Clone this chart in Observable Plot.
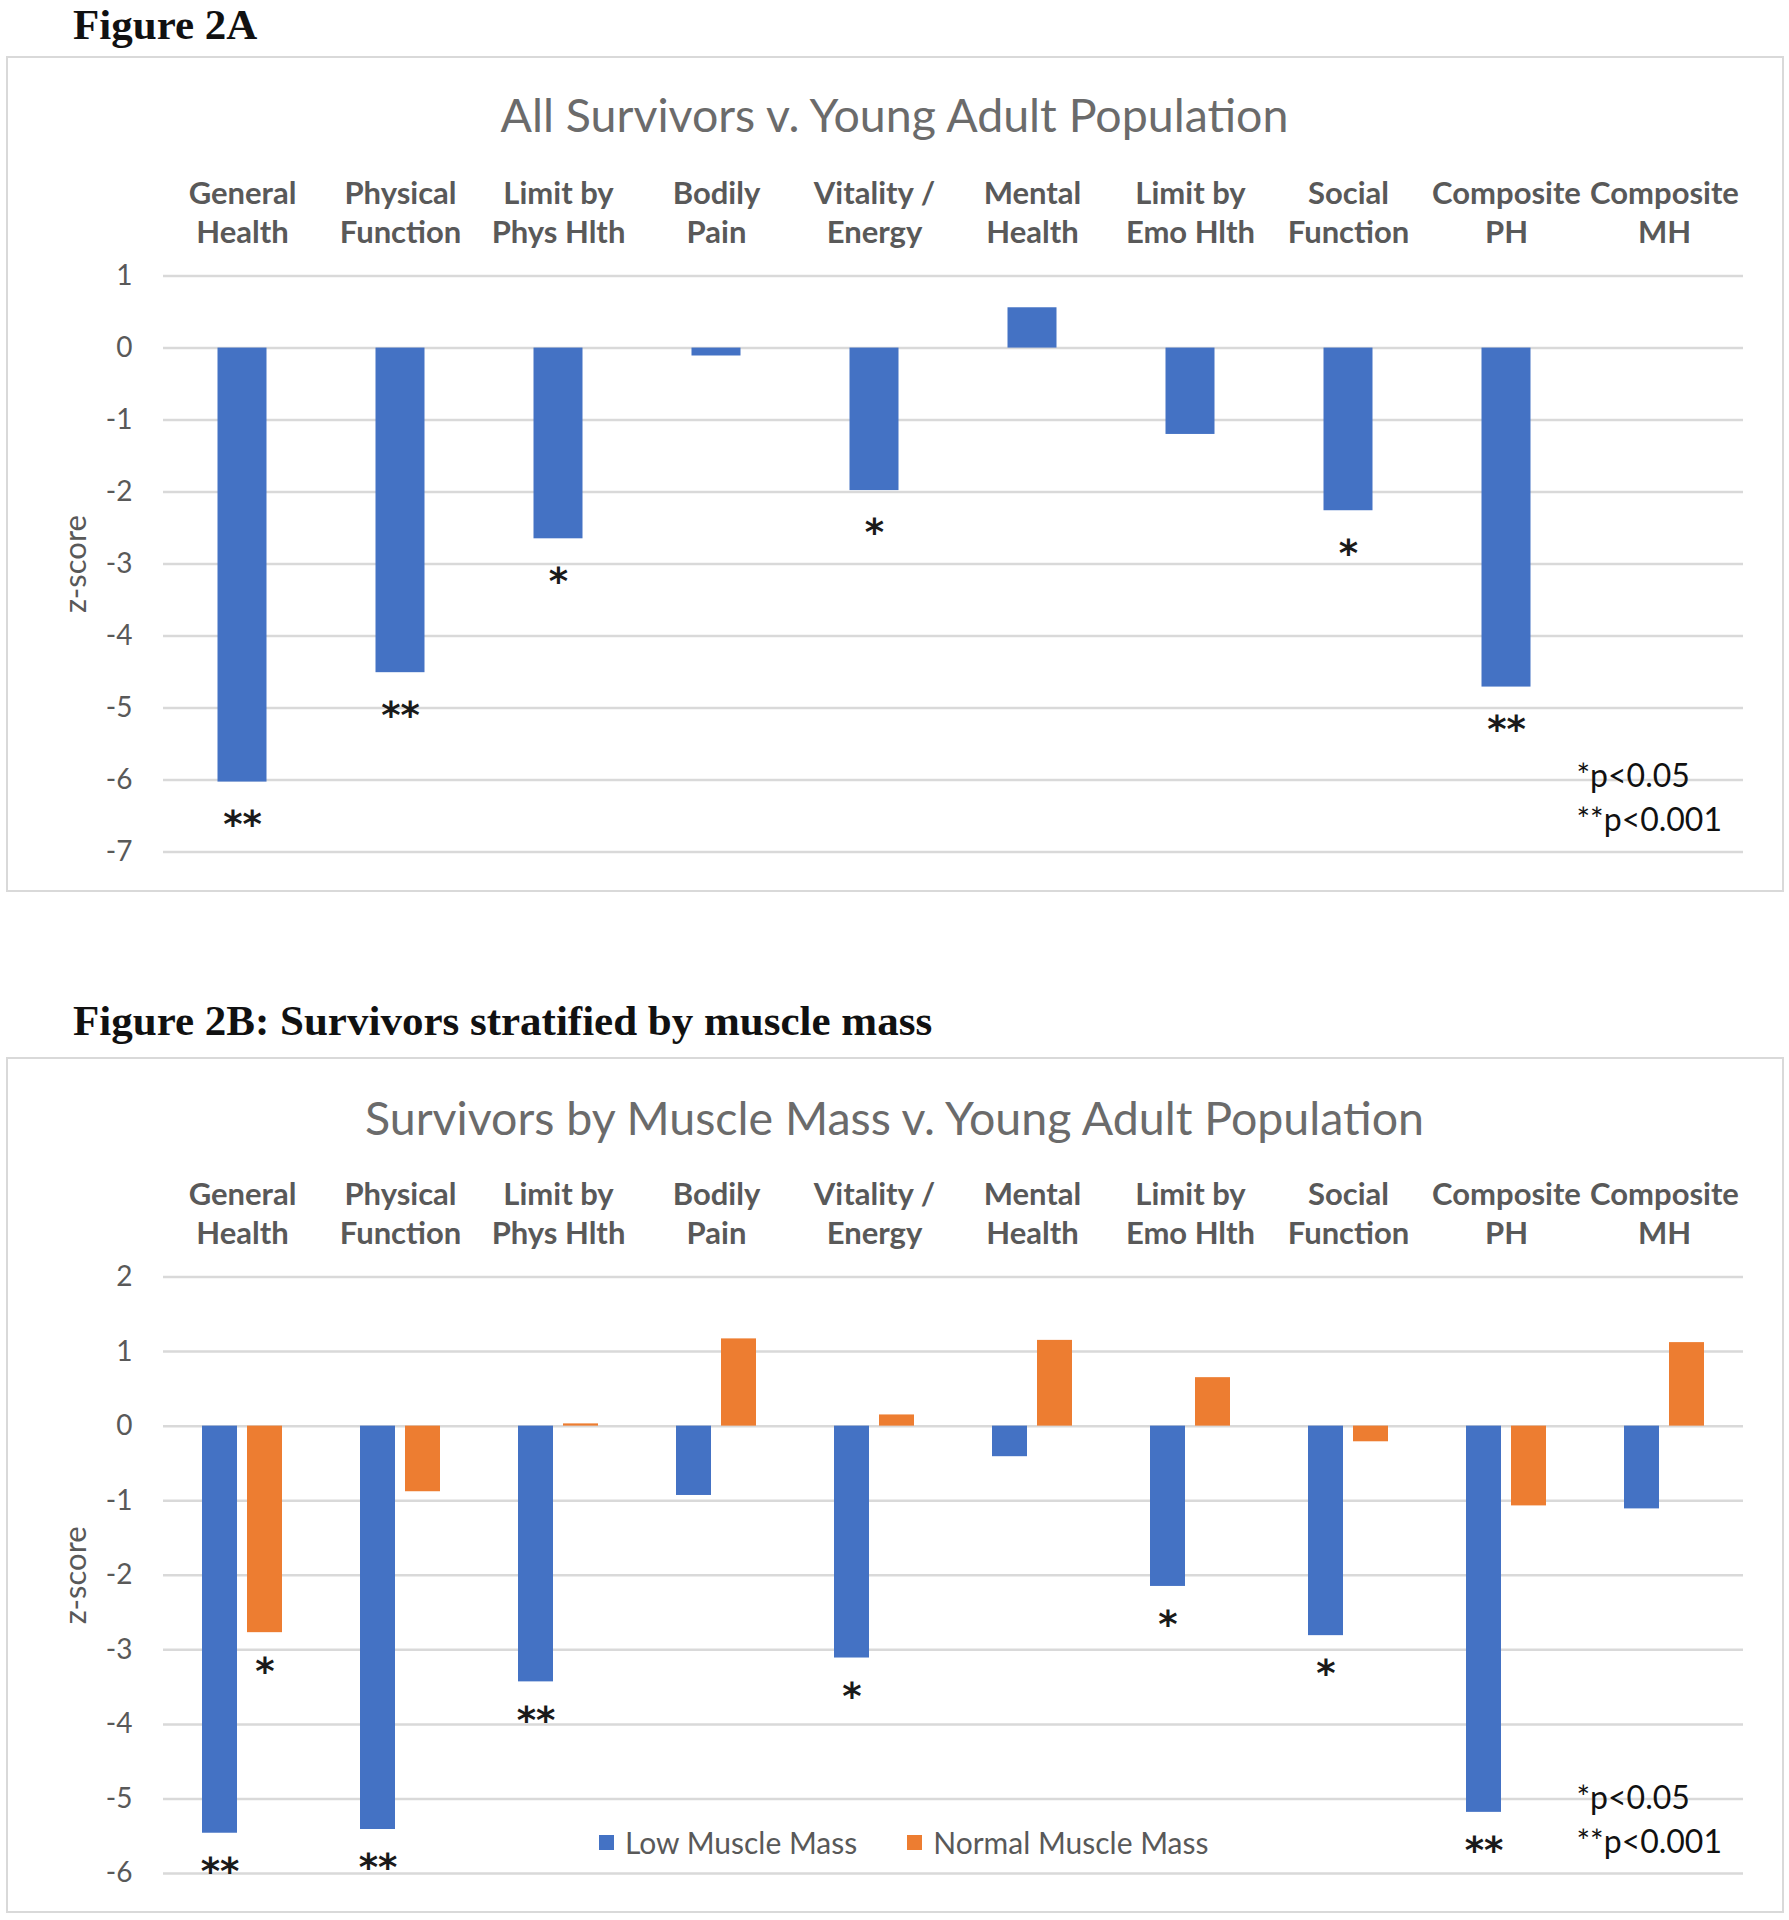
<!DOCTYPE html>
<html><head><meta charset="utf-8">
<script src="https://cdn.jsdelivr.net/npm/d3@7"></script>
<script src="https://cdn.jsdelivr.net/npm/@observablehq/plot@0.6"></script>
<style>
body{margin:0;background:#fff;width:1789px;height:1920px;position:relative;overflow:hidden;}
.fig{position:absolute;left:73px;font-family:"Liberation Serif","Times New Roman",serif;font-weight:bold;font-size:43px;line-height:48px;color:#111;white-space:nowrap;}
.panel{position:absolute;left:6px;width:1778px;border:2px solid #d9d9d9;box-sizing:border-box;}
.title{position:absolute;left:0;width:1789px;text-align:center;font-family:Lato,sans-serif;font-weight:400;font-size:46.5px;line-height:46.5px;color:#6b6b6b;white-space:nowrap;}
.chart{position:absolute;left:0;}
.legend{position:absolute;display:flex;align-items:center;font-family:Lato,sans-serif;font-size:30px;color:#595959;white-space:nowrap;}
.legend .sw{display:inline-block;width:15px;height:15px;margin-right:11px;}
.legend .item{display:flex;align-items:center;margin-right:50px;}
</style>
</head><body>
<script>
const categories = ["General Health","Physical Function","Limit by Phys Hlth","Bodily Pain","Vitality / Energy","Mental Health","Limit by Emo Hlth","Social Function","Composite PH","Composite MH"];
const categoryLabels = ["General\nHealth","Physical\nFunction","Limit by\nPhys Hlth","Bodily\nPain","Vitality /\nEnergy","Mental\nHealth","Limit by\nEmo Hlth","Social\nFunction","Composite\nPH","Composite\nMH"];
const allSurvivors = [-6.03,-4.51,-2.65,-0.11,-1.98,0.56,-1.2,-2.26,-4.71,null];
const allSurvivorsSig = ["**","**","*","","*","","","*","**",""];
const lowMuscle = [-5.46,-5.41,-3.43,-0.93,-3.11,-0.41,-2.15,-2.81,-5.18,-1.11];
const lowMuscleSig = ["**","**","**","","*","","*","*","**",""];
const normalMuscle = [-2.77,-0.88,0.03,1.17,0.15,1.15,0.65,-0.21,-1.07,1.12];
const normalMuscleSig = ["*","","","","","","","","",""];
const seriesNames = ["Low Muscle Mass","Normal Muscle Mass"];
const seriesColors = ["#4472C4","#ED7D31"];
const ticksA = [1,0,-1,-2,-3,-4,-5,-6,-7];
const ticksB = [2,1,0,-1,-2,-3,-4,-5,-6];
const figureA = "Figure 2A";
const figureB = "Figure 2B: Survivors stratified by muscle mass";
const titleA = "All Survivors v. Young Adult Population";
const titleB = "Survivors by Muscle Mass v. Young Adult Population";
const yLabel = "z-score";
const pNotes = "*p<0.05\n**p<0.001";

const labelOf = new Map(categories.map((c,i)=>[c, categoryLabels[i]]));
const font = "Lato, sans-serif";
const gray = "#595959";

function add(html, cls, style){
  const d = document.createElement("div");
  d.className = cls; Object.assign(d.style, style);
  if (html != null) d.textContent = html;
  document.body.appendChild(d); return d;
}

add(null, "panel", {top:"56px", height:"836px"});
add(null, "panel", {top:"1057px", height:"856px"});
add(figureA, "fig", {top:"1px"});
add(figureB, "fig", {top:"997px"});
add(titleA, "title", {top:"91px"});
add(titleB, "title", {top:"1094px"});

const sigStyle = {fontSize:37, fontFamily:"DejaVu Sans, sans-serif", fontWeight:"bold", fill:"#1a1a1a", letterSpacing:"2px", lineAnchor:"middle"};
const noteStyle = {textAnchor:"start", lineAnchor:"bottom", dy:-20.5, fontSize:32, lineHeight:1.375, fill:"#111"};
const catAxis = {anchor:"top", tickSize:0, tickPadding:33, fontSize:31, fontWeight:"bold", fill:gray, lineHeight:1.26, label:null, tickFormat:d=>labelOf.get(d)};
const yAxisStyle = {tickSize:0, tickPadding:31, fontSize:28, fill:gray, tickFormat:d=>String(d), label:null};
const yLabelStyle = {frameAnchor:"left", rotate:-90, dx:-87, fontSize:31, fill:gray, textAnchor:"middle", lineAnchor:"middle"};

// Panel A
const dataA = categories.map((c,i)=>({category:c, value:allSurvivors[i], sig:allSurvivorsSig[i]}));
const plotA = Plot.plot({
  width:1789, height:732,
  marginLeft:163, marginRight:46, marginTop:115.6, marginBottom:40.6,
  style:{fontFamily:font, background:"transparent", overflow:"visible"},
  x:{domain:categories, padding:0},
  y:{domain:[-7,1]},
  marks:[
    Plot.gridY(ticksA, {stroke:"#d9d9d9", strokeOpacity:1, strokeWidth:2.5}),
    Plot.barY(dataA.filter(d=>d.value!=null), {x:"category", y:"value", fill:seriesColors[0], insetLeft:54.5, insetRight:54.5}),
    Plot.text(dataA.filter(d=>d.sig), {x:"category", y:"value", text:"sig", dy:43, ...sigStyle}),
    Plot.axisX(catAxis),
    Plot.axisY({ticks:ticksA, ...yAxisStyle}),
    Plot.text([yLabel], yLabelStyle),
    Plot.text([pNotes], {frameAnchor:"bottom-right", dx:-167, ...noteStyle})
  ]
});
const wa = document.createElement("div"); wa.className="chart"; wa.style.top="160px"; wa.appendChild(plotA); document.body.appendChild(wa);

// Panel B
const dataB = categories.flatMap((c,i)=>[
  {category:c, series:seriesNames[0], value:lowMuscle[i], sig:lowMuscleSig[i]},
  {category:c, series:seriesNames[1], value:normalMuscle[i], sig:normalMuscleSig[i]}
]);
const lastCat = categories[categories.length-1];
const plotB = Plot.plot({
  width:1789, height:752,
  marginLeft:163, marginRight:46, marginTop:115.5, marginBottom:40,
  style:{fontFamily:font, background:"transparent", overflow:"visible"},
  fx:{domain:categories, padding:0},
  x:{domain:seriesNames, paddingInner:0.217, paddingOuter:0.826, axis:null},
  y:{domain:[-6,2]},
  color:{domain:seriesNames, range:seriesColors},
  marks:[
    Plot.gridY(ticksB, {stroke:"#d9d9d9", strokeOpacity:1, strokeWidth:2.5}),
    Plot.barY(dataB, {fx:"category", x:"series", y:"value", fill:"series"}),
    Plot.text(dataB.filter(d=>d.sig), {fx:"category", x:"series", y:"value", text:"sig", dy:39, ...sigStyle}),
    Plot.axisFx(catAxis),
    Plot.axisY({ticks:ticksB, ...yAxisStyle}),
    Plot.text([{category:categories[0], t:yLabel}], {fx:"category", text:"t", ...yLabelStyle}),
    Plot.text([{category:lastCat, note:pNotes}], {fx:"category", text:"note", frameAnchor:"bottom-left", dx:-9, ...noteStyle})
  ]
});
const wb = document.createElement("div"); wb.className="chart"; wb.style.top="1161px"; wb.appendChild(plotB); document.body.appendChild(wb);

// Legend for panel B
const lg = add(null, "legend", {left:"599px", top:"1827px", height:"30px"});
seriesNames.forEach((s,i)=>{
  const it = document.createElement("span"); it.className="item";
  const sw = document.createElement("span"); sw.className="sw"; sw.style.background = seriesColors[i];
  it.appendChild(sw); it.appendChild(document.createTextNode(s)); lg.appendChild(it);
});
</script>
</body></html>
